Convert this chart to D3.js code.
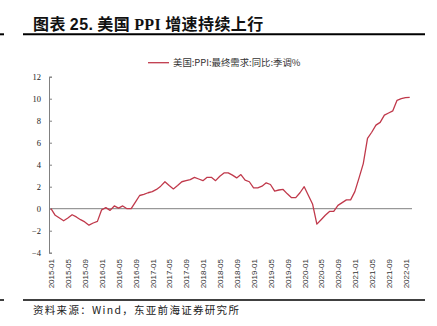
<!DOCTYPE html>
<html><head><meta charset="utf-8">
<script src="https://cdn.jsdelivr.net/npm/d3@7/dist/d3.min.js"></script>
<style>body{margin:0;background:#fff}svg{display:block}</style>
</head><body>
<svg id="c" width="437" height="326"></svg>
<script>
const months = ["2015-01","2015-02","2015-03","2015-04","2015-05","2015-06","2015-07","2015-08","2015-09","2015-10","2015-11","2015-12",
"2016-01","2016-02","2016-03","2016-04","2016-05","2016-06","2016-07","2016-08","2016-09","2016-10","2016-11","2016-12",
"2017-01","2017-02","2017-03","2017-04","2017-05","2017-06","2017-07","2017-08","2017-09","2017-10","2017-11","2017-12",
"2018-01","2018-02","2018-03","2018-04","2018-05","2018-06","2018-07","2018-08","2018-09","2018-10","2018-11","2018-12",
"2019-01","2019-02","2019-03","2019-04","2019-05","2019-06","2019-07","2019-08","2019-09","2019-10","2019-11","2019-12",
"2020-01","2020-02","2020-03","2020-04","2020-05","2020-06","2020-07","2020-08","2020-09","2020-10","2020-11","2020-12",
"2021-01","2021-02","2021-03","2021-04","2021-05","2021-06","2021-07","2021-08","2021-09","2021-10","2021-11","2021-12",
"2022-01","2022-02"];
const ppi = [0.0,-0.6,-0.85,-1.1,-0.85,-0.55,-0.75,-1.0,-1.2,-1.5,-1.3,-1.15,
-0.1,0.1,-0.15,0.25,0.05,0.25,0.0,0.0,0.6,1.2,1.3,1.45,
1.55,1.75,2.05,2.45,2.1,1.8,2.1,2.45,2.55,2.65,2.85,2.7,
2.55,2.85,2.85,2.55,2.95,3.25,3.25,3.05,2.8,3.1,2.6,2.45,
1.9,1.9,2.05,2.35,2.2,1.6,1.7,1.75,1.35,1.0,1.0,1.45,
2.0,1.2,0.4,-1.4,-1.0,-0.6,-0.25,-0.25,0.3,0.55,0.8,0.8,
1.55,2.8,4.1,6.4,6.95,7.6,7.85,8.5,8.7,8.9,9.85,10.0,
10.1,10.12];
const tickLabels = ["2015-01","2015-05","2015-09","2016-01","2016-05","2016-09","2017-01","2017-05","2017-09",
"2018-01","2018-05","2018-09","2019-01","2019-05","2019-09","2020-01","2020-05","2020-09","2021-01","2021-05","2021-09","2022-01"];
const yTicks = [-4,-2,0,2,4,6,8,10,12];
const seriesName = "美国:PPI:最终需求:同比:季调%";
const title = ["图表 ", "25.", " 美国 ", "PPI", " 增速持续上行"];
const source = "资料来源：Wind，东亚前海证券研究所";

const svg = d3.select("#c");
const axisX = 49;
const x = d3.scalePoint().domain(months).range([51, 409.7]);
const y = d3.scaleLinear().domain([-4, 12]).range([252.7, 76.7]);

// title
const t = svg.append("text").attr("x", 33).attr("y", 29.5)
  .attr("font-size", 16).attr("font-weight", "bold").attr("fill", "#111")
  .attr("font-family", "'Noto Sans CJK SC', sans-serif").attr("letter-spacing", 0.4);
t.selectAll("tspan").data(title).join("tspan")
  .attr("font-family", (d, i) => i === 1 ? "'Liberation Sans', Arial, sans-serif" : i === 3 ? "'Liberation Serif', serif" : null)
  .text(d => d);
svg.append("line").attr("x1", 23).attr("x2", 425).attr("y1", 34.3).attr("y2", 34.3).attr("stroke", "#000").attr("stroke-width", 2);
svg.append("line").attr("x1", 0).attr("x2", 4).attr("y1", 34.3).attr("y2", 34.3).attr("stroke", "#000").attr("stroke-width", 2);

// legend
svg.append("line").attr("x1", 148).attr("x2", 169).attr("y1", 62.7).attr("y2", 62.7)
  .attr("stroke", "#c0394b").attr("stroke-width", 1.3);
svg.append("text").attr("x", 173).attr("y", 66).attr("font-size", 9.4).attr("fill", "#333")
  .attr("font-family", "'Noto Sans CJK SC', sans-serif").text(seriesName);

// y axis
const yAxis = d3.axisLeft(y).tickValues(yTicks).tickSize(-3).tickPadding(8).tickFormat(d3.format("d"));
const gy = svg.append("g").attr("transform", `translate(${axisX},0)`).call(yAxis);
gy.select(".domain").attr("stroke", "#808080");
gy.selectAll(".tick line").attr("stroke", "#808080");
gy.selectAll(".tick text").attr("font-family", "'Liberation Serif', serif").attr("font-size", 8.5).attr("fill", "#222");

// zero line
svg.append("line").attr("x1", axisX).attr("x2", 412).attr("y1", y(0)).attr("y2", y(0))
  .attr("stroke", "#808080").attr("stroke-width", 1);

// x axis labels
const xAxis = d3.axisBottom(x).tickValues(tickLabels).tickSize(0).tickPadding(0);
const gx = svg.append("g").attr("transform", "translate(0,258)").call(xAxis);
gx.select(".domain").remove();
gx.selectAll(".tick text").attr("transform", "rotate(-90)").attr("text-anchor", "end")
  .attr("x", -1).attr("y", 0).attr("dy", "0.35em")
  .attr("font-family", "'Liberation Sans', Arial, sans-serif").attr("font-size", 8).attr("fill", "#333");

// series line
svg.append("path").datum(ppi)
  .attr("d", d3.line().x((d, i) => x(months[i])).y(d => y(d)))
  .attr("fill", "none").attr("stroke", "#c0394b").attr("stroke-width", 1.3).attr("stroke-linejoin", "round");

// footer
svg.append("line").attr("x1", 23).attr("x2", 425).attr("y1", 300).attr("y2", 300).attr("stroke", "#000").attr("stroke-width", 1.5);
svg.append("line").attr("x1", 0).attr("x2", 4).attr("y1", 300).attr("y2", 300).attr("stroke", "#000").attr("stroke-width", 1.5);
svg.append("text").attr("x", 33).attr("y", 313.5).attr("font-size", 10.5).attr("letter-spacing", 1.3)
  .attr("fill", "#222").attr("font-family", "'Noto Sans CJK SC', sans-serif").text(source);
</script>
</body></html>
